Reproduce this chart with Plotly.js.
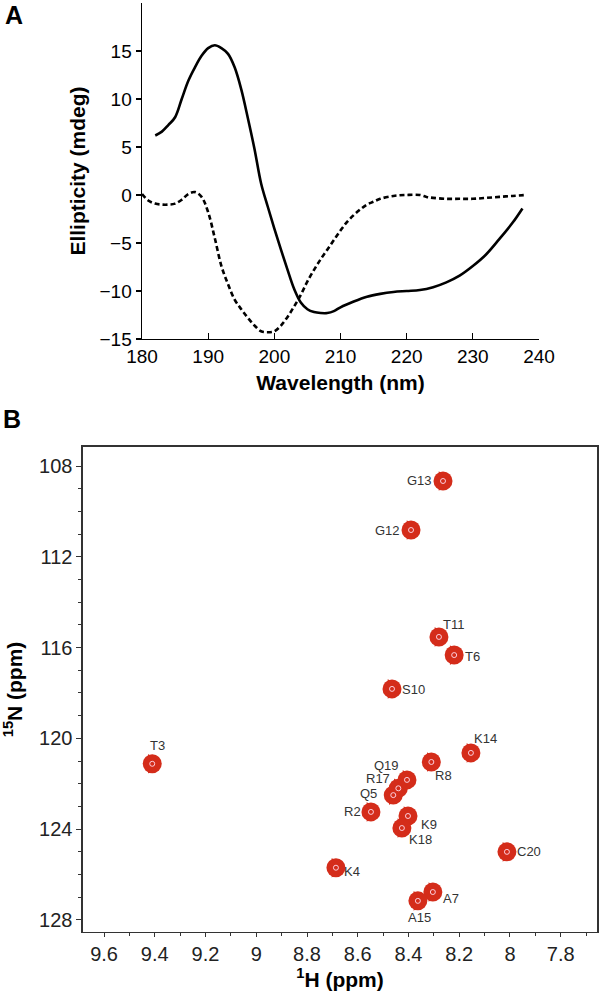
<!DOCTYPE html>
<html>
<head>
<meta charset="utf-8">
<script src="https://cdn.plot.ly/plotly-3.0.1.min.js"></script>
<style>
  body { margin: 0; background: #fff; }
  #fig { width: 600px; height: 999px; }
</style>
</head>
<body>
<div id="fig"></div>
<script>
// panel A: CD spectra
var wlSolid = [182, 183, 184, 185, 186, 187, 188, 189, 190, 191, 192, 193, 194, 195, 196, 197, 198, 199, 200, 201, 202, 203, 204, 205, 206, 207, 208, 209, 210, 212, 214, 216, 218, 220, 222, 224, 226, 228, 230, 232, 234, 236, 237.5];
var cdSolid = [6.2, 6.6, 7.3, 8.1, 10.0, 11.9, 13.3, 14.5, 15.3, 15.6, 15.3, 14.7, 13.3, 11.0, 8.0, 4.8, 1.2, -1.2, -3.5, -5.7, -7.8, -9.8, -11.2, -11.9, -12.2, -12.3, -12.3, -12.1, -11.7, -11.1, -10.6, -10.3, -10.1, -10.0, -9.9, -9.6, -9.1, -8.4, -7.4, -6.2, -4.6, -2.9, -1.4];

var wlDash = [180, 181, 182, 183, 184, 185, 186, 187, 188, 189, 190, 191, 192, 193, 194, 195, 196, 197, 198, 199, 200, 201, 202, 203, 204, 205, 206, 207, 208, 209, 210, 211, 212, 213, 214, 215, 216, 218, 220, 222, 223, 224, 226, 228, 230, 232, 234, 236, 238];
var cdDash = [0.1, -0.6, -0.9, -1.0, -1.0, -0.9, -0.5, 0.1, 0.3, -0.2, -1.8, -4.5, -7.4, -9.3, -10.9, -11.9, -12.8, -13.6, -14.2, -14.3, -14.2, -13.6, -12.7, -11.6, -10.4, -9.0, -7.8, -6.7, -5.7, -4.7, -3.7, -2.8, -2.1, -1.5, -1.0, -0.7, -0.4, -0.1, 0, 0, -0.2, -0.3, -0.4, -0.4, -0.4, -0.3, -0.2, -0.1, 0];

var cdTicksX = [180, 190, 200, 210, 220, 230, 240];
var cdTicksY = [-15, -10, -5, 0, 5, 10, 15];

// panel B: 1H-15N HSQC peaks
var residues = ['R2', 'T3', 'K4', 'Q5', 'T6', 'A7', 'R8', 'K9', 'S10', 'T11', 'G12', 'G13', 'K14', 'A15', 'R17', 'K18', 'Q19', 'C20'];
var shiftH = [8.548, 9.41, 8.686, 8.46, 8.22, 8.304, 8.31, 8.402, 8.465, 8.28, 8.39, 8.264, 8.154, 8.363, 8.44, 8.426, 8.406, 8.012];
var shiftN = [123.24, 121.12, 125.7, 122.5, 116.33, 126.77, 121.04, 123.42, 117.82, 115.53, 110.82, 108.66, 120.64, 127.16, 122.2, 123.95, 121.83, 125.0];

// where each residue label sits relative to its peak, in px (right, down)
var labelOffset = [[-18, 0], [5, -18], [16, 4], [-25, -2], [18, 1], [18, 6], [12, 14], [21, 9], [21, 1],
                   [15, -12], [-24, 0], [-24, 0], [15, -14], [2, 17], [-20, -10], [19, 11], [-20, -14], [22, 0]];

var peakRed = '#d42c1a';

var spectra = [
  {x: wlSolid, y: cdSolid, xaxis: 'x', yaxis: 'y', type: 'scatter', mode: 'lines',
   line: {color: '#000', width: 2.6, shape: 'spline'}},
  {x: wlDash, y: cdDash, xaxis: 'x', yaxis: 'y', type: 'scatter', mode: 'lines',
   line: {color: '#000', width: 2.6, dash: '5px,3px', shape: 'spline'}},
  {x: shiftH, y: shiftN, xaxis: 'x2', yaxis: 'y2', type: 'scatter', mode: 'markers',
   marker: {symbol: 'triangle-right', color: peakRed, size: 17, line: {width: 0}}},
  {x: shiftH, y: shiftN, xaxis: 'x2', yaxis: 'y2', type: 'scatter', mode: 'markers',
   marker: {color: peakRed, size: 19, line: {width: 0}}},
  {x: shiftH, y: shiftN, xaxis: 'x2', yaxis: 'y2', type: 'scatter', mode: 'markers',
   marker: {symbol: 'circle-open', color: '#fde', size: 5, line: {color: '#fde', width: 0.9}}}
];

var notes = residues.map(function (r, i) {
  return {text: r, x: shiftH[i], y: shiftN[i], xref: 'x2', yref: 'y2', showarrow: false,
          xanchor: 'center', yanchor: 'middle',
          xshift: labelOffset[i][0], yshift: -labelOffset[i][1],
          font: {size: 13, color: '#333'}};
});
notes.push({text: '<b>A</b>', xref: 'paper', yref: 'paper', x: 14 / 600, y: 1 - 15 / 999,
            xanchor: 'center', yanchor: 'middle', showarrow: false, font: {size: 25, color: '#000'}});
notes.push({text: '<b>B</b>', xref: 'paper', yref: 'paper', x: 12 / 600, y: 1 - 419 / 999,
            xanchor: 'center', yanchor: 'middle', showarrow: false, font: {size: 25, color: '#000'}});

var layout = {
  width: 600, height: 999,
  margin: {l: 0, r: 0, t: 0, b: 0},
  showlegend: false,
  paper_bgcolor: '#fff', plot_bgcolor: '#fff',
  font: {family: 'Liberation Sans, Arial, sans-serif', color: '#000'},
  xaxis: {
    domain: [0.2367, 0.8983], anchor: 'y', range: [180, 240],
    tickvals: cdTicksX, ticks: 'inside', ticklen: 6, tickwidth: 1.2, tickcolor: '#000',
    showline: true, linecolor: '#000', linewidth: 1.5,
    showgrid: false, zeroline: false, tickfont: {size: 19},
    title: {text: '<b>Wavelength (nm)</b>', font: {size: 21}, standoff: 9}
  },
  yaxis: {
    domain: [0.6607, 0.997], anchor: 'x', range: [-15, 20],
    tickvals: cdTicksY, ticks: 'outside', ticklen: 5, tickwidth: 1.2, tickcolor: '#000',
    showline: true, linecolor: '#000', linewidth: 1.5,
    showgrid: false, zeroline: false, tickfont: {size: 19},
    title: {text: '<b>Ellipticity (mdeg)</b>', font: {size: 21}, standoff: 8}
  },
  xaxis2: {
    domain: [0.1383, 0.995], anchor: 'y2', range: [9.683, 7.657],
    tick0: 7.8, dtick: 0.2, ticks: 'outside', ticklen: 4, tickcolor: '#333',
    minor: {dtick: 0.1, ticks: 'outside', ticklen: 3, tickcolor: '#333'},
    showline: true, mirror: true, linecolor: '#333', linewidth: 1.5,
    showgrid: false, zeroline: false, tickfont: {size: 20, color: '#222'},
    title: {text: '<b><sup>1</sup>H (ppm)</b>', font: {size: 21}, standoff: 3}
  },
  yaxis2: {
    domain: [0.0671, 0.5526], anchor: 'x2', range: [128.53, 107.16],
    tick0: 108, dtick: 4, ticks: 'outside', ticklen: 5, tickcolor: '#333',
    minor: {dtick: 1, ticks: 'outside', ticklen: 3, tickcolor: '#333'},
    showline: true, mirror: true, linecolor: '#333', linewidth: 1.5,
    showgrid: false, zeroline: false, tickfont: {size: 20, color: '#222'},
    title: {text: '<b><sup>15</sup>N (ppm)</b>', font: {size: 21}, standoff: 19}
  },
  annotations: notes
};

var config = {staticPlot: true};
Plotly.newPlot('fig', spectra, layout, config);
</script>
</body>
</html>
